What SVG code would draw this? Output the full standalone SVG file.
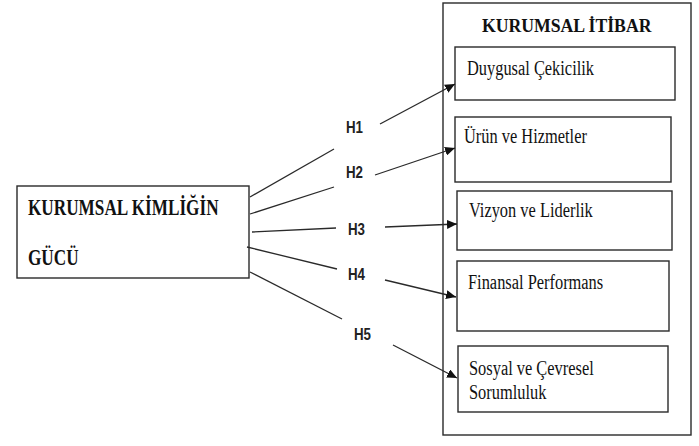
<svg xmlns="http://www.w3.org/2000/svg" width="699" height="446" viewBox="0 0 699 446">
<style>
.box{fill:#fff;stroke:#2a2a2a;stroke-width:1.4}
.tx{font-family:"Liberation Serif","Times New Roman",Times,serif;fill:#111}
.b{font-weight:bold}
.lab{font-family:"Liberation Sans",Arial,sans-serif;font-weight:bold;font-size:13.3px;fill:#222}
.ln{stroke:#2a2a2a;stroke-width:1.3;fill:none}
.ar{marker-end:url(#ah)}
</style>
<defs>
<marker id="ah" markerUnits="userSpaceOnUse" markerWidth="11" markerHeight="9" refX="10" refY="4.5" orient="auto">
<path d="M0,0 L10,4.5 L0,9 z" fill="#111"/>
</marker>
</defs>
<rect width="699" height="446" fill="#fff"/>
<g id="kurumsal-itibar">
<rect class="box" x="443" y="3" width="248" height="432"/>
<text class="tx b" font-size="17.7" transform="translate(482,32) scale(1,1.05)">KURUMSAL İTİBAR</text>
</g>
<g id="kimlik">
<rect class="box" x="17" y="186" width="232" height="92"/>
<text class="tx b" font-size="17.2" transform="translate(28,215) scale(1,1.3)">KURUMSAL KİMLİĞİN</text>
<text class="tx b" font-size="17.2" transform="translate(28,265) scale(1,1.3)">GÜCÜ</text>
</g>
<g id="duygusal">
<rect class="box" x="455" y="47" width="220" height="53"/>
<text class="tx" font-size="16.4" transform="translate(467,75) scale(1,1.22)">Duygusal Çekicilik</text>
</g>
<g id="urun">
<rect class="box" x="455" y="117" width="216" height="65"/>
<text class="tx" font-size="16.4" transform="translate(464,143) scale(1,1.22)">Ürün ve Hizmetler</text>
</g>
<g id="vizyon">
<rect class="box" x="457" y="191" width="215" height="59"/>
<text class="tx" font-size="16.4" transform="translate(469,217) scale(1,1.22)">Vizyon ve Liderlik</text>
</g>
<g id="finansal">
<rect class="box" x="457" y="261" width="212" height="70"/>
<text class="tx" font-size="16.4" transform="translate(468,289) scale(1,1.22)">Finansal Performans</text>
</g>
<g id="sosyal">
<rect class="box" x="458" y="346" width="210" height="66"/>
<text class="tx" font-size="16.4" transform="translate(469,375) scale(1,1.22)">Sosyal ve Çevresel</text>
<text class="tx" font-size="16.4" transform="translate(469,399) scale(1,1.22)">Sorumluluk</text>
</g>
<g id="connectors">
<line class="ln" x1="250" y1="197" x2="334" y2="149"/>
<line class="ln" x1="250" y1="214" x2="334" y2="187"/>
<line class="ln" x1="252" y1="232" x2="336" y2="228"/>
<line class="ln" x1="247" y1="247" x2="337" y2="269"/>
<line class="ln" x1="250" y1="272" x2="342" y2="319"/>
<line class="ln ar" x1="380" y1="124" x2="455" y2="84"/>
<line class="ln ar" x1="375" y1="175" x2="455" y2="148"/>
<line class="ln ar" x1="385" y1="227" x2="457" y2="224"/>
<line class="ln ar" x1="385" y1="280" x2="456" y2="297"/>
<line class="ln ar" x1="393" y1="345" x2="457" y2="378"/>
</g>
<g id="labels">
<text class="lab" transform="translate(346,133) scale(1,1.3)">H1</text>
<text class="lab" transform="translate(346,178) scale(1,1.3)">H2</text>
<text class="lab" transform="translate(348,235) scale(1,1.3)">H3</text>
<text class="lab" transform="translate(348,280) scale(1,1.3)">H4</text>
<text class="lab" transform="translate(354,340) scale(1,1.3)">H5</text>
</g>
</svg>
